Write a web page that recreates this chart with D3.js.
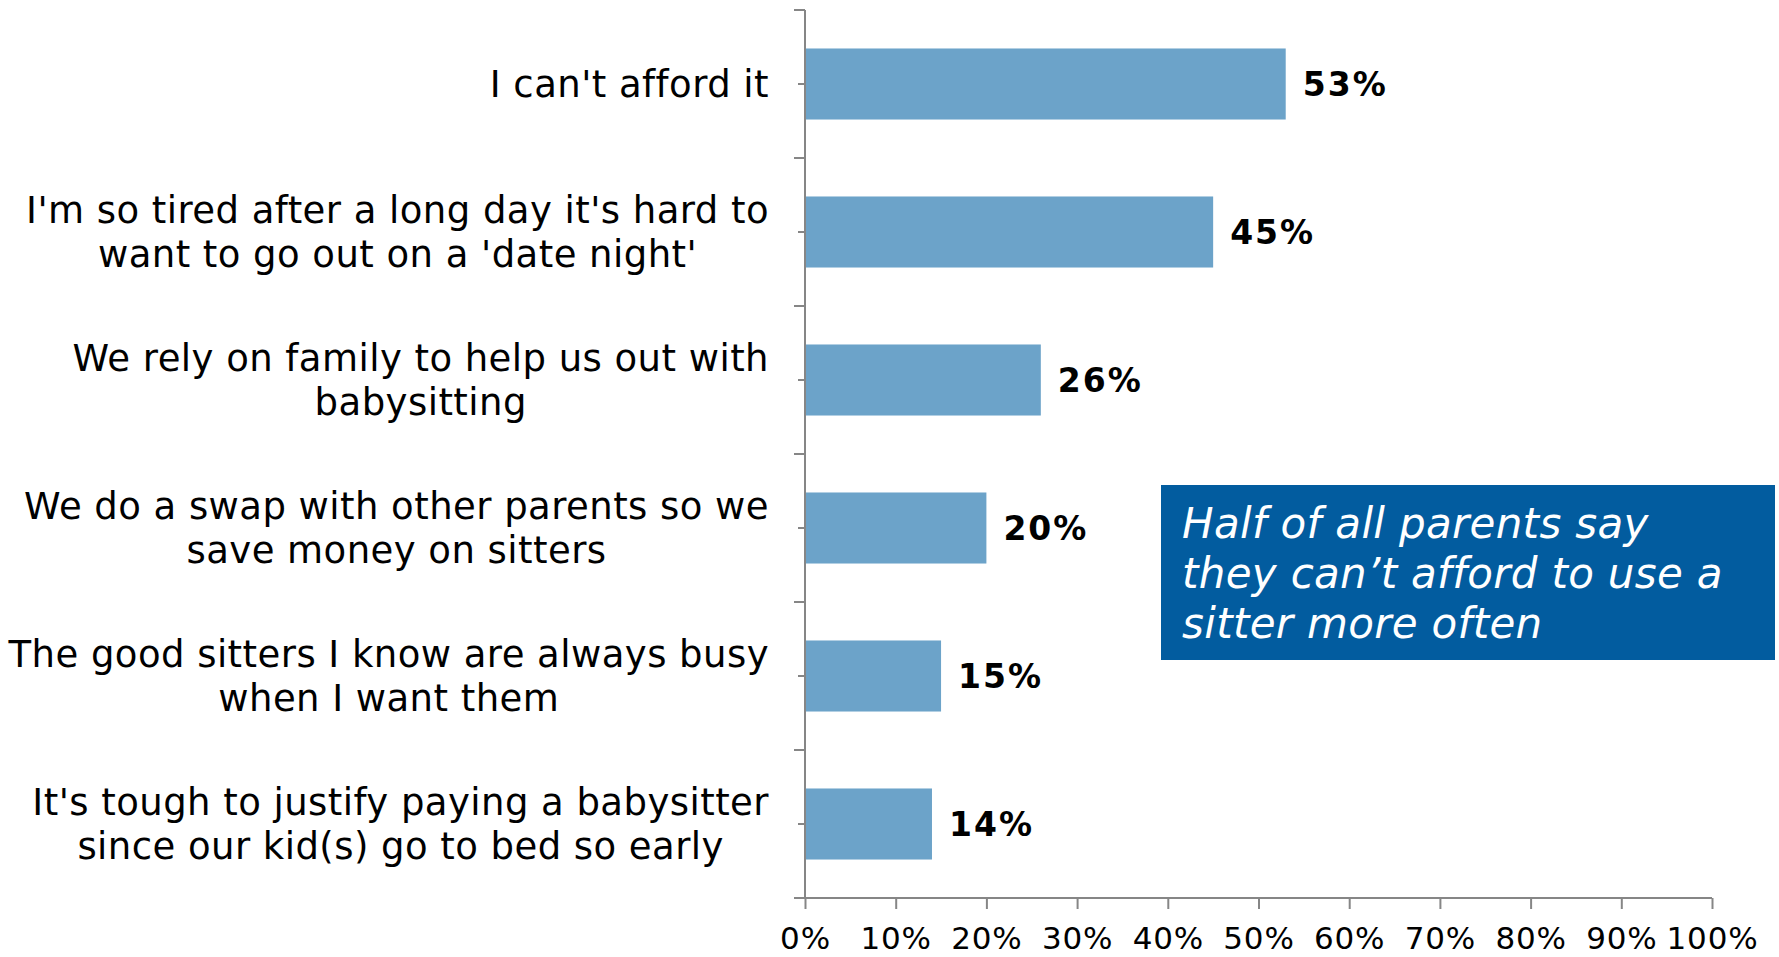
<!DOCTYPE html>
<html>
<head>
<meta charset="utf-8">
<script src="https://cdn.jsdelivr.net/npm/d3@7"></script>
<style>
  html, body { margin: 0; padding: 0; background: #fff; }
  svg { display: block; }
</style>
</head>
<body>
<svg id="chart" width="1779" height="957"></svg>
<script>
const categories = [
  ["I can't afford it"],
  ["I'm so tired after a long day it's hard to", "want to go out on a 'date night'"],
  ["We rely on family to help us out with", "babysitting"],
  ["We do a swap with other parents so we", "save money on sitters"],
  ["The good sitters I know are always busy", "when I want them"],
  ["It's tough to justify paying a babysitter", "since our kid(s) go to bed so early"]
];
const values = [0.53, 0.45, 0.26, 0.20, 0.15, 0.14];
const valueLabels = ["53%", "45%", "26%", "20%", "15%", "14%"];
const tickValues = [0, 0.1, 0.2, 0.3, 0.4, 0.5, 0.6, 0.7, 0.8, 0.9, 1.0];
const tickLabels = ["0%", "10%", "20%", "30%", "40%", "50%", "60%", "70%", "80%", "90%", "100%"];
const calloutLines = ["Half of all parents say", "they can\u2019t afford to use a", "sitter more often"];

const FONT = "'DejaVu Sans', Verdana, sans-serif";
const AXIS = "#868686";
const BAR = "#6CA3C9";
const BOX = "#025C9F";

const svg = d3.select("#chart");
const ids = categories.map((c, i) => i);

const x = d3.scaleLinear().domain([0, 1]).range([805, 1712]);
const y = d3.scaleBand().domain(ids).range([10, 898]).paddingInner(0.52).paddingOuter(0.26);
const step = y.step();

// bars
svg.append("g").selectAll("rect").data(values).join("rect")
  .attr("x", x(0))
  .attr("y", (d, i) => y(i))
  .attr("width", d => x(d) - x(0))
  .attr("height", y.bandwidth())
  .attr("fill", BAR);

// y axis line and ticks
const yAxisG = svg.append("g").attr("stroke", AXIS).attr("stroke-width", 2);
yAxisG.append("line").attr("x1", x(0)).attr("x2", x(0)).attr("y1", 10).attr("y2", 898);
const bounds = d3.range(categories.length + 1).map(i => 10 + i * step);
yAxisG.selectAll("line.major").data(bounds).join("line").attr("class", "major")
  .attr("x1", x(0) - 11).attr("x2", x(0)).attr("y1", d => d).attr("y2", d => d);
yAxisG.selectAll("line.minor").data(ids).join("line").attr("class", "minor")
  .attr("x1", x(0) - 7).attr("x2", x(0))
  .attr("y1", i => y(i) + y.bandwidth() / 2).attr("y2", i => y(i) + y.bandwidth() / 2);

// x axis
const xAxis = d3.axisBottom(x).tickValues(tickValues)
  .tickFormat((d, i) => tickLabels[i]).tickSize(11).tickSizeOuter(0).tickPadding(12);
const xg = svg.append("g").attr("transform", "translate(0,898)").call(xAxis);
xg.select(".domain").attr("stroke", AXIS).attr("stroke-width", 2).attr("d", `M${x(0) - 11},0H${x(1)}`);
xg.selectAll(".tick line").attr("stroke", AXIS).attr("stroke-width", 2);
xg.selectAll(".tick text").attr("fill", "#000").attr("font-family", FONT).attr("font-size", 31)
  .attr("letter-spacing", 0.8)
  .attr("dy", null).attr("y", 51);

// value labels
svg.append("g").selectAll("text").data(values).join("text")
  .attr("x", d => x(d) + 17)
  .attr("y", (d, i) => y(i) + y.bandwidth() / 2 + 12)
  .attr("font-family", FONT).attr("font-weight", "bold").attr("font-size", 33)
  .attr("letter-spacing", 2)
  .attr("fill", "#000")
  .text((d, i) => valueLabels[i]);

// category labels (centered block, right-aligned)
const labelRight = 769;
const lineH = 44;
const catG = svg.append("g");
categories.forEach((lines, i) => {
  const cy = y(i) + y.bandwidth() / 2;
  const t = catG.append("text").attr("font-family", FONT).attr("font-size", 37)
    .attr("letter-spacing", 0.45)
    .attr("fill", "#000").attr("text-anchor", "middle");
  const spans = lines.map((ln, k) => t.append("tspan")
    .attr("y", cy + (k - (lines.length - 1) / 2) * lineH + 13).text(ln));
  const maxW = d3.max(spans, s => s.node().getComputedTextLength());
  spans.forEach(s => s.attr("x", labelRight - maxW / 2));
});

// callout box
const box = svg.append("g");
box.append("rect").attr("x", 1161).attr("y", 485).attr("width", 614).attr("height", 175).attr("fill", BOX);
box.append("text").attr("font-family", FONT).attr("font-style", "italic").attr("font-size", 42)
  .attr("letter-spacing", 0.3)
  .attr("fill", "#fff")
  .selectAll("tspan").data(calloutLines).join("tspan")
  .attr("x", 1182).attr("y", (d, i) => 538 + i * 50).text(d => d);
</script>
</body>
</html>
